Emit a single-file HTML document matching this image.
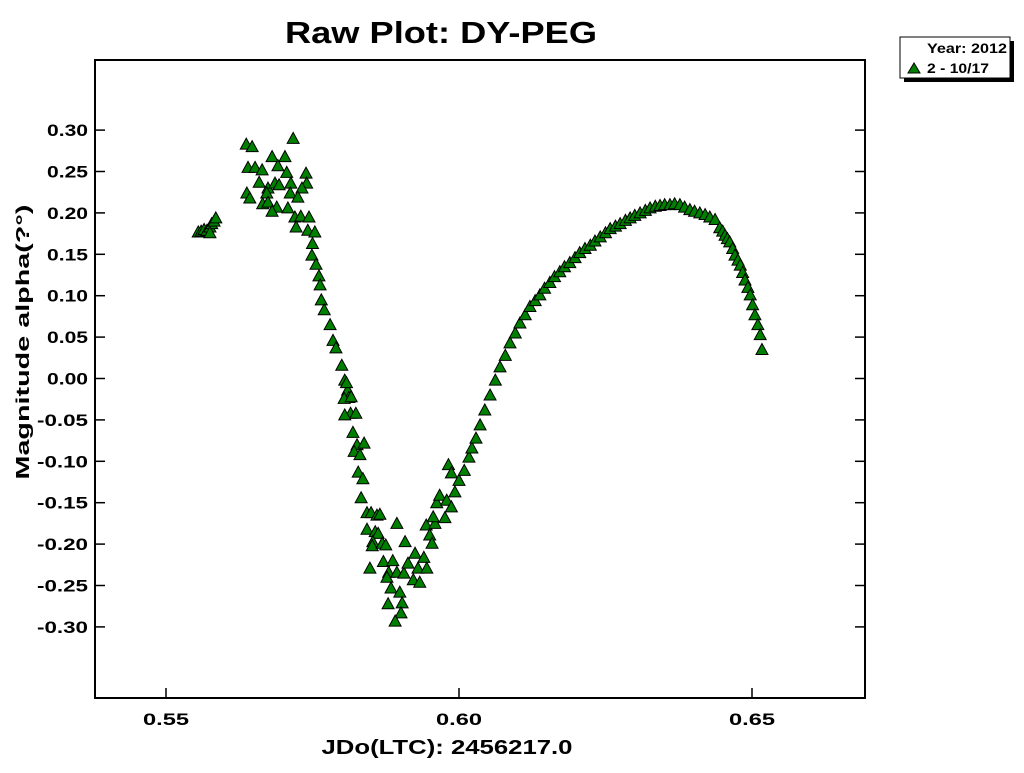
<!DOCTYPE html>
<html><head><meta charset="utf-8"><style>
body{margin:0;background:#fff;width:1024px;height:768px;overflow:hidden}
svg text{font-family:"Liberation Sans",Arial,sans-serif;font-weight:bold;fill:#000}
</style></head><body>
<svg id="chart" width="1024" height="768" xmlns="http://www.w3.org/2000/svg">
<text x="441" y="43" font-size="31" text-anchor="middle" textLength="312" lengthAdjust="spacingAndGlyphs">Raw Plot: DY-PEG</text>
<rect x="95" y="60" width="770" height="638" fill="none" stroke="#000" stroke-width="2"/>
<g id="xticks"></g>
<g id="yticks"></g>
<g id="points"></g>
<text x="447" y="754" font-size="20" text-anchor="middle" textLength="251" lengthAdjust="spacingAndGlyphs">JDo(LTC): 2456217.0</text>
<text transform="translate(29,342) rotate(-90)" font-size="18" text-anchor="middle" textLength="275" lengthAdjust="spacingAndGlyphs">Magnitude alpha(?°)</text>
<g>
<rect x="904" y="41" width="110" height="41" fill="#000"/>
<rect x="900" y="37" width="110" height="41" fill="#fff" stroke="#000" stroke-width="1"/>
<text x="927" y="53" font-size="14" textLength="80" lengthAdjust="spacingAndGlyphs">Year: 2012</text>
<polygon points="914,63 908,73 920,73" fill="#008000" stroke="#000" stroke-width="1"/>
<text x="927" y="73" font-size="14" textLength="62" lengthAdjust="spacingAndGlyphs">2 - 10/17</text>
</g>
</svg>
<script>
const xTicks=[0.55,0.60,0.65];
const xTickLabels=["0.55","0.60","0.65"];
const yTicks=[0.30,0.25,0.20,0.15,0.10,0.05,0.00,-0.05,-0.10,-0.15,-0.20,-0.25,-0.30];
const yTickLabels=["0.30","0.25","0.20","0.15","0.10","0.05","0.00","-0.05","-0.10","-0.15","-0.20","-0.25","-0.30"];
const jd=[0.5555,0.5560,0.5565,0.5570,0.5575,0.5578,0.5582,0.5585,0.5575,
0.5717,0.5637,0.5647,0.5681,0.5703,0.5640,0.5652,0.5664,0.5691,0.5706,0.5739,0.5659,0.5674,0.5686,0.5693,0.5713,0.5740,0.5732,0.5638,0.5643,0.5672,0.5712,0.5725,0.5665,0.5674,0.5689,0.5681,0.5708,0.5720,0.5730,0.5744,0.5722,0.5742,0.5754,0.5750,0.5749,0.5756,0.5761,
0.5763,0.5765,0.5770,0.5780,0.5785,0.5790,0.5800,0.5805,0.5810,0.5812,0.5815,
0.5808,0.5804,0.5816,0.5805,0.5824,0.5819,0.5826,0.5838,0.5821,0.5831,0.5828,0.5836,0.5833,0.5843,0.5850,0.5860,0.5865,0.5894,0.5843,0.5857,0.5862,0.5853,0.5852,0.5869,0.5875,0.5908,0.5848,0.5871,0.5887,0.5880,0.5877,0.5894,0.5906,0.5913,0.5925,0.5940,0.5930,0.5945,0.5922,0.5933,0.5884,0.5899,0.5879,0.5903,0.5901,0.5891,
0.5944,0.5950,0.5954,0.5959,0.5976,0.5956,0.5962,0.5967,0.5979,0.5987,0.5993,0.5982,0.5987,0.6000,0.6009,0.6017,0.6022,0.6029,
0.6036,0.6044,0.6053,0.6062,0.6070,0.6079,0.6087,0.6096,0.6104,0.6113,0.6121,0.6130,0.6138,0.6146,0.6155,0.6163,0.6172,0.6180,0.6189,0.6198,0.6206,0.6215,0.6224,0.6232,0.6241,0.6250,0.6258,0.6267,0.6275,0.6284,0.6292,0.6300,0.6309,0.6318,0.6326,0.6335,0.6343,0.6351,0.6360,0.6368,0.6377,0.6385,0.6394,0.6402,0.6411,0.6420,0.6428,0.6437,0.6445,0.6450,0.6454,0.6458,0.6462,0.6467,0.6471,0.6476,0.6480,0.6484,0.6488,0.6493,0.6497,0.6501,0.6505,0.6510,0.6514,0.6517];
const mag=[0.177,0.178,0.180,0.179,0.183,0.187,0.190,0.194,0.176,
0.290,0.283,0.280,0.268,0.268,0.255,0.255,0.252,0.257,0.249,0.248,0.237,0.230,0.236,0.234,0.236,0.236,0.230,0.224,0.218,0.224,0.224,0.219,0.211,0.213,0.207,0.202,0.206,0.195,0.196,0.195,0.183,0.179,0.177,0.163,0.149,0.138,0.124,
0.113,0.095,0.083,0.065,0.046,0.037,0.016,-0.002,-0.014,-0.023,-0.042,
-0.005,-0.024,-0.022,-0.044,-0.042,-0.065,-0.080,-0.078,-0.088,-0.092,-0.113,-0.121,-0.144,-0.162,-0.162,-0.165,-0.164,-0.175,-0.182,-0.185,-0.187,-0.197,-0.202,-0.199,-0.201,-0.197,-0.229,-0.221,-0.220,-0.234,-0.240,-0.234,-0.235,-0.223,-0.211,-0.216,-0.229,-0.229,-0.243,-0.246,-0.253,-0.258,-0.272,-0.271,-0.283,-0.293,
-0.177,-0.189,-0.199,-0.175,-0.168,-0.167,-0.150,-0.141,-0.147,-0.155,-0.137,-0.104,-0.114,-0.123,-0.111,-0.095,-0.084,-0.072,
-0.056,-0.038,-0.020,-0.002,0.014,0.028,0.043,0.055,0.067,0.077,0.087,0.094,0.101,0.109,0.116,0.123,0.129,0.135,0.140,0.146,0.152,0.157,0.161,0.166,0.171,0.176,0.181,0.184,0.187,0.191,0.194,0.197,0.200,0.203,0.206,0.208,0.209,0.210,0.210,0.211,0.210,0.207,0.204,0.202,0.200,0.198,0.195,0.192,0.182,0.178,0.173,0.169,0.165,0.157,0.149,0.143,0.137,0.128,0.119,0.110,0.101,0.089,0.077,0.065,0.053,0.035];
const NS="http://www.w3.org/2000/svg";
const xScale=v=>166+(v-0.55)*5860;
const yScale=v=>378.5-v*828;
const gx=document.getElementById('xticks'),gy=document.getElementById('yticks'),gp=document.getElementById('points');
xTicks.forEach((t,i)=>{
  const x=xScale(t);
  const l=document.createElementNS(NS,'line');
  
  
  l.setAttribute('x1',x);l.setAttribute('x2',x);l.setAttribute('y1',688);l.setAttribute('y2',698);l.setAttribute('stroke','#000');l.setAttribute('stroke-width','1.5');
  gx.appendChild(l);
  const tx=document.createElementNS(NS,'text');
  
  
  tx.setAttribute('x',x);tx.setAttribute('y',725);tx.setAttribute('font-size','17');tx.setAttribute('text-anchor','middle');
  tx.setAttribute('textLength','46');tx.setAttribute('lengthAdjust','spacingAndGlyphs');
  tx.textContent=xTickLabels[i];gx.appendChild(tx);
});
yTicks.forEach((t,i)=>{
  const y=yScale(t);
  const l=document.createElementNS(NS,'line');
  
  
  l.setAttribute('x1',95);l.setAttribute('x2',105);l.setAttribute('y1',y);l.setAttribute('y2',y);l.setAttribute('stroke','#000');l.setAttribute('stroke-width','1.5');
  gy.appendChild(l);
  const r=document.createElementNS(NS,'line');
  
  
  r.setAttribute('x1',855);r.setAttribute('x2',865);r.setAttribute('y1',y);r.setAttribute('y2',y);r.setAttribute('stroke','#000');r.setAttribute('stroke-width','1.5');
  gy.appendChild(r);
  const tx=document.createElementNS(NS,'text');
  
  
  tx.setAttribute('x',88);tx.setAttribute('y',y+6);tx.setAttribute('font-size','17');tx.setAttribute('text-anchor','end');
  tx.setAttribute('textLength',yTickLabels[i].length>4?'51':'41');tx.setAttribute('lengthAdjust','spacingAndGlyphs');
  tx.textContent=yTickLabels[i];gy.appendChild(tx);
});
jd.forEach((v,i)=>{
  const x=xScale(v),y=yScale(mag[i]);
  const p=document.createElementNS(NS,'polygon');
  
  
  p.setAttribute('points',`${x},${y-6} ${x-6},${y+5} ${x+6},${y+5}`);
  p.setAttribute('fill','#008000');p.setAttribute('stroke','#000');p.setAttribute('stroke-width','1');
  gp.appendChild(p);
});
</script>
</body></html>
